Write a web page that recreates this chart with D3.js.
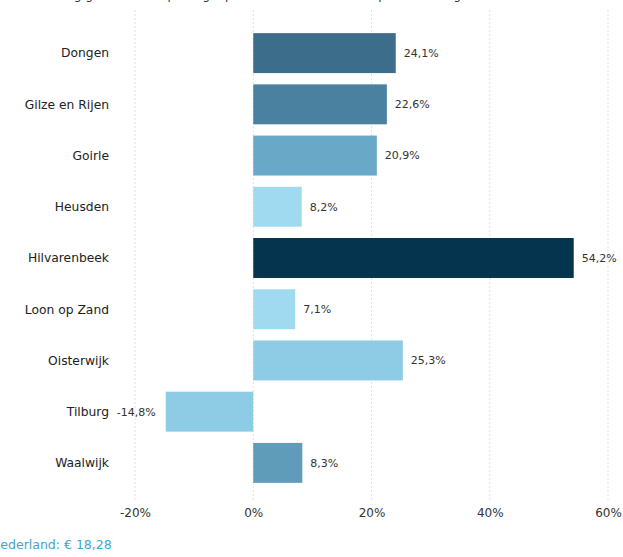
<!DOCTYPE html>
<html>
<head>
<meta charset="utf-8">
<script src="https://cdn.jsdelivr.net/npm/d3@7"></script>
<style>
  body { margin: 0; background: #fff; }
  svg { display: block; font-family: "DejaVu Sans", Verdana, sans-serif; }
</style>
</head>
<body>
<div id="chart"></div>
<script>
// gemeenten en procentuele ontwikkeling
var gemeenten = ["Dongen", "Gilze en Rijen", "Goirle", "Heusden", "Hilvarenbeek",
                 "Loon op Zand", "Oisterwijk", "Tilburg", "Waalwijk"];
var waarden = [24.1, 22.6, 20.9, 8.2, 54.2, 7.1, 25.3, -14.8, 8.3];
var kleuren = ["#3c6e8b", "#4a80a0", "#69a8c6", "#a0daf0", "#05344f",
               "#a0daf0", "#8ecbe4", "#8ecbe4", "#5f9cb9"];
var ticks = [-20, 0, 20, 40, 60];

var width = 623, height = 557;

var svg = d3.select("#chart").append("svg")
    .attr("width", width)
    .attr("height", height);

// title (cut off at the top of the picture, as in the source)
svg.append("text")
    .attr("x", 4).attr("y", -1)
    .attr("font-size", "12px")
    .attr("fill", "#333")
    .text("Ontwikkeling gemiddelde opbrengst per inwoner, 2010-2014 (procentuele groei)");

var x = d3.scaleLinear()
    .domain([-20, 60])
    .range([135, 608]);

var y = d3.scaleBand()
    .domain(gemeenten)
    .range([27.5, 488.5])
    .paddingInner(0.22)
    .paddingOuter(0.11);

// dotted grid
svg.append("g").selectAll("line")
  .data(ticks)
  .enter()
  .append("line")
    .attr("x1", function(d) { return x(d); })
    .attr("x2", function(d) { return x(d); })
    .attr("y1", 10)
    .attr("y2", 500)
    .attr("stroke", "#e2e2e2")
    .attr("stroke-dasharray", "2,2");

// axis labels
var xAxis = svg.append("g")
    .attr("transform", "translate(0,500)")
    .call(d3.axisBottom(x).tickValues(ticks).tickSize(0).tickPadding(8)
      .tickFormat(function(d) { return d + "%"; }));
xAxis.select(".domain").remove();
xAxis.selectAll("text")
    .attr("font-size", "12px")
    .attr("font-family", "DejaVu Sans, Verdana, sans-serif")
    .attr("fill", "#333");

// bars
svg.selectAll(".bar")
  .data(waarden)
  .enter()
  .append("rect")
    .attr("class", "bar")
    .attr("x", function(d) { return x(Math.min(0, d)); })
    .attr("y", function(d, i) { return y(gemeenten[i]); })
    .attr("width", function(d) { return Math.abs(x(d) - x(0)); })
    .attr("height", y.bandwidth())
    .attr("fill", function(d, i) { return kleuren[i]; });

// category labels
svg.selectAll(".cat")
  .data(gemeenten)
  .enter()
  .append("text")
    .attr("class", "cat")
    .attr("x", 109)
    .attr("y", function(d) { return y(d) + y.bandwidth() / 2; })
    .attr("dy", "0.35em")
    .attr("text-anchor", "end")
    .attr("font-size", "12.3px")
    .attr("fill", "#222")
    .text(function(d) { return d; });

// value labels
svg.selectAll(".val")
  .data(waarden)
  .enter()
  .append("text")
    .attr("class", "val")
    .attr("x", function(d) { return d < 0 ? x(d) - 10 : x(d) + 8; })
    .attr("y", function(d, i) { return y(gemeenten[i]) + y.bandwidth() / 2; })
    .attr("dy", "0.35em")
    .attr("text-anchor", function(d) { return d < 0 ? "end" : "start"; })
    .attr("font-size", "11px")
    .attr("fill", "#333")
    .text(function(d) { return d.toFixed(1).replace(".", ",") + "%"; });

// footnote (left edge cut off, as in the source)
svg.append("text")
    .attr("x", -9)
    .attr("y", 549)
    .attr("font-size", "12.5px")
    .attr("fill", "#3aa8d0")
    .text("Nederland: \u20ac 18,28");
</script>
</body>
</html>
